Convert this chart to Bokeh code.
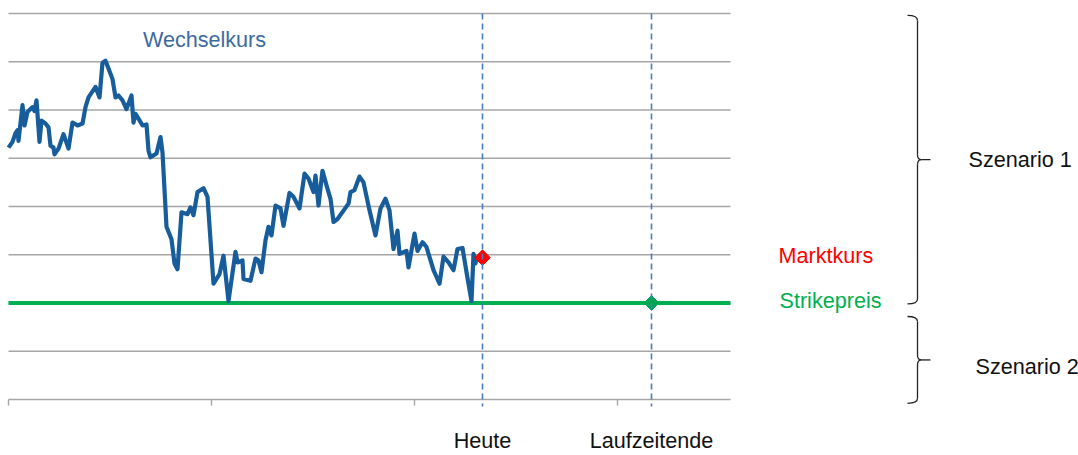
from bokeh.plotting import figure
from bokeh.models import Range1d
from bokeh.core.properties import value
from bokeh.embed import file_html
from bokeh.resources import INLINE

# ---- data (time index t, exchange-rate index level) ----
t = [0, 4, 7, 9, 10, 14, 16, 19, 24, 26, 28, 31, 33, 37, 40, 42, 45, 46, 50, 55,
     60, 64, 69, 74, 77, 80, 87, 91, 94, 97, 100, 104, 107, 110, 114, 118, 123, 125, 127, 130,
     134, 138, 140, 142, 148, 152, 154, 158, 163, 166, 169, 173, 179, 182, 185, 189, 195, 199, 205, 211,
     215, 220, 227, 229, 234, 235, 242, 247, 250, 253, 257, 260, 263, 267, 272, 275, 281, 285, 291, 296,
     300, 305, 307, 310, 314, 318, 322, 325, 329, 340, 342, 346, 351, 355, 361, 367, 372, 377, 381, 385,
     389, 391, 398, 400, 406, 409, 414, 418, 425, 431, 435, 440, 445, 449, 454, 458, 463, 465, 467, 468]
rate = [116.1, 116.7, 117.6, 117.9, 116.8, 120.5, 118.4, 119.8, 120.3, 119.9, 121.0, 116.7, 118.9, 118.6, 118.2, 116.3, 116.1, 115.4, 116.0, 117.5,
        116.0, 118.7, 118.4, 118.6, 120.3, 121.3, 122.4, 121.3, 124.9, 125.1, 124.3, 123.2, 121.3, 121.5, 121.0, 120.1, 121.5, 118.7, 119.6, 119.1,
        118.4, 118.5, 115.8, 115.1, 115.5, 117.2, 115.6, 107.9, 106.6, 104.1, 103.5, 109.4, 109.2, 109.9, 109.1, 111.5, 111.9, 111.0, 102.0, 103.0,
        104.9, 100.2, 105.3, 104.2, 104.4, 102.5, 102.3, 104.6, 104.4, 103.2, 106.5, 107.9, 107.0, 110.1, 109.8, 108.0, 111.4, 111.0, 109.8, 113.4,
        112.9, 111.5, 113.2, 110.1, 113.7, 112.2, 110.8, 108.4, 108.7, 110.3, 111.5, 111.7, 113.1, 112.5, 109.6, 107.0, 109.8, 110.8, 109.6, 105.6,
        107.5, 105.1, 105.4, 103.7, 107.2, 105.4, 106.3, 105.8, 103.4, 102.0, 104.8, 104.2, 103.4, 105.6, 105.7, 103.2, 100.2, 105.1, 104.1, 104.6]

strike = 100.0
market = 104.7
t_today = 474
t_end = 643
t_last = 722
grid_levels = [95, 100, 105, 110, 115, 120, 125, 130]
axis_level = 90
x_ticks = [0, 203, 406, 609]
scenario1 = (99.9, 129.8)
scenario2 = (89.6, 98.6)

BLUE = "#175d9c"
GREEN = "#00b050"
RED = "#ff0000"
DASH = "#4a7bbd"
GRID = "#a6a6a6"
FONT = value("Liberation Sans")
FS = "21.6px"

p = figure(width=1078, height=455, output_backend="svg", toolbar_location=None,
           x_range=Range1d(-8, 1070), y_range=Range1d(84.197, 131.347),
           min_border=0, outline_line_color=None)
p.axis.visible = False
p.grid.visible = False
p.background_fill_color = "white"

px = 5.0 / 48.25  # value units per pixel
dy = 8 * px       # baseline correction

# grid lines
p.segment(x0=[0] * len(grid_levels), x1=[t_last] * len(grid_levels), y0=grid_levels, y1=grid_levels,
          line_color=GRID, line_width=1.4)
# axis line and ticks
p.segment(x0=[0], x1=[t_last], y0=[axis_level], y1=[axis_level], line_color=GRID, line_width=1.4)
p.segment(x0=x_ticks, x1=x_ticks, y0=[axis_level] * len(x_ticks),
          y1=[axis_level - 6 * px] * len(x_ticks), line_color=GRID, line_width=1.4)

# strike line
p.line([0, t_last], [strike, strike], line_color=GREEN, line_width=4)

# exchange rate
p.line(t, rate, line_color=BLUE, line_width=4.2, line_join="round")

# markers
p.scatter([t_today], [market], marker="square", angle=0.785398, size=11, fill_color=RED, line_color=RED)
p.scatter([t_end], [strike], marker="square", angle=0.785398, size=10.5, fill_color="#00a651", line_color="#00a651")

# dashed verticals
for xv in (t_today, t_end):
    p.line([xv, xv], [130, axis_level - 7 * px], line_color=DASH, line_width=1.6, line_dash="6 4")

# texts
p.text(x=[196], y=[126.5 + dy], text=["Wechselkurs"], text_color="#3d6aa0", text_font=FONT,
       text_font_size=FS, text_align="center", text_baseline="alphabetic")
p.text(x=[770], y=[104.09 + dy], text=["Marktkurs"], text_color=RED, text_font=FONT,
       text_font_size=FS, text_align="left", text_baseline="alphabetic")
p.text(x=[771], y=[99.46 + dy], text=["Strikepreis"], text_color=GREEN, text_font=FONT,
       text_font_size=FS, text_align="left", text_baseline="alphabetic")
p.text(x=[t_today, t_end], y=[84.95 + dy, 84.95 + dy], text=["Heute", "Laufzeitende"], text_color="#111111",
       text_font=FONT, text_font_size=FS, text_align="center", text_baseline="alphabetic")
p.text(x=[960, 967], y=[114.04 + dy, 92.59 + dy], text=["Szenario 1", "Szenario 2"], text_color="#111111",
       text_font=FONT, text_font_size=FS, text_align="left", text_baseline="alphabetic")

# braces
def brace(lo, hi):
    xl, xv, xt = 899, 909, 922
    mid = (lo + hi) / 2
    r = 5 * px
    kw = dict(line_color="#222222", line_width=1.3)
    p.quadratic(x0=[xl], y0=[hi], x1=[xv], y1=[hi - r], cx=[xv], cy=[hi], **kw)
    p.line([xv, xv], [hi - r, mid + r], **kw)
    p.quadratic(x0=[xv], y0=[mid + r], x1=[xv + 4], y1=[mid], cx=[xv], cy=[mid], **kw)
    p.quadratic(x0=[xv], y0=[mid - r], x1=[xv + 4], y1=[mid], cx=[xv], cy=[mid], **kw)
    p.line([xv + 4, xt], [mid, mid], **kw)
    p.line([xv, xv], [mid - r, lo + r], **kw)
    p.quadratic(x0=[xv], y0=[lo + r], x1=[xl], y1=[lo], cx=[xv], cy=[lo], **kw)

brace(*scenario1)
brace(*scenario2)

open("out.html", "w").write(file_html(p, INLINE))
